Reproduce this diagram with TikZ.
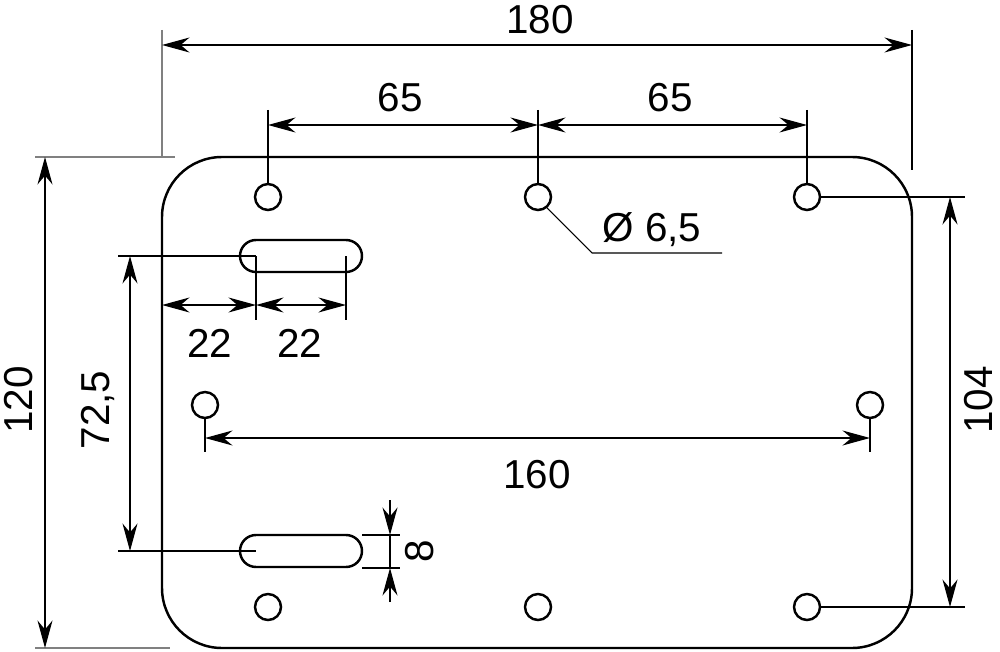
\documentclass[tikz,border=0pt]{standalone}
\usepackage{fontspec}
\setmainfont{Liberation Sans}
\usetikzlibrary{arrows.meta}
\tikzset{
  dim/.style={line width=0.8pt,{Stealth[length=5.5mm,width=3mm]}-{Stealth[length=5.5mm,width=3mm]}},
  onearrow/.style={line width=0.8pt,-{Stealth[length=5.5mm,width=3mm]}},
  ext/.style={line width=0.6pt},
  part/.style={line width=1.4pt},
  lbl/.style={font=\fontsize{23}{27}\selectfont}
}
\begin{document}
\begin{tikzpicture}[x=0.02cm,y=-0.02cm]
  \useasboundingbox (0,0) rectangle (1000,652);
  % plate
  \draw[part,rounded corners=12mm] (162,157) rectangle (912,648);
  % holes
  \foreach \x/\y in {268/197,538/197,807/197,205/405,870/405,268/607,538/607,807/607}
    \draw[part] (\x,\y) circle (13);
  % slots
  \foreach \y in {256,551}
    \draw[part] (256,\y-16) -- (346,\y-16) arc (-90:90:16) -- (256,\y+16) arc (90:270:16) -- cycle;
  % 180
  \draw[ext,gray] (162,30) -- (162,157);
  \draw[ext] (912,30) -- (912,170);
  \draw[dim] (162,45) -- (912,45);
  \node[lbl] (t180) at (540,20) {180};
  % 65 65
  \foreach \x in {268,538,807} \draw[ext] (\x,110) -- (\x,184);
  \draw[dim] (268,125) -- (538,125);
  \draw[dim] (538,125) -- (807,125);
  \node[lbl] (t65a) at (400,98) {65};
  \node[lbl] (t65b) at (670,98) {65};
  % diameter
  \draw[ext] (546,207) -- (592,253) -- (722,253);
  \node[lbl] (tdia) at (652,230) {Ø 6,5};
  % 104
  \draw[ext] (820,197) -- (965,197);
  \draw[ext] (820,607) -- (965,607);
  \draw[dim] (950,197) -- (950,607);
  \node[lbl,rotate=90] (t104) at (979,400) {104};
  % 120
  \draw[ext,gray] (35,157) -- (175,157);
  \draw[ext,gray] (35,648) -- (170,648);
  \draw[dim] (45,157) -- (45,648);
  \node[lbl,rotate=90] (t120) at (19,400) {120};
  % 72,5
  \draw[ext] (118,256) -- (256,256);
  \draw[ext] (118,551) -- (256,551);
  \draw[dim] (130,256) -- (130,551);
  \node[lbl,rotate=90] (t725) at (98,410) {72,5};
  % 22 22
  \draw[ext] (256,256) -- (256,320);
  \draw[ext] (346,256) -- (346,320);
  \draw[dim] (162,305) -- (256,305);
  \draw[dim] (256,305) -- (346,305);
  \node[lbl] (t22a) at (210,343) {22};
  \node[lbl] (t22b) at (300,343) {22};
  % 160
  \draw[ext] (205,418) -- (205,452);
  \draw[ext] (870,418) -- (870,452);
  \draw[dim] (205,438) -- (870,438);
  \node[lbl] (t160) at (537,475) {160};
  % 8
  \draw[ext] (362,535) -- (400,535);
  \draw[ext] (362,568) -- (400,568);
  \draw[onearrow] (390,500) -- (390,535);
  \draw[onearrow] (390,602) -- (390,568);
  \draw[ext] (390,535) -- (390,568);
  \node[lbl,rotate=90] (t8) at (420,551) {8};
\end{tikzpicture}
\end{document}
